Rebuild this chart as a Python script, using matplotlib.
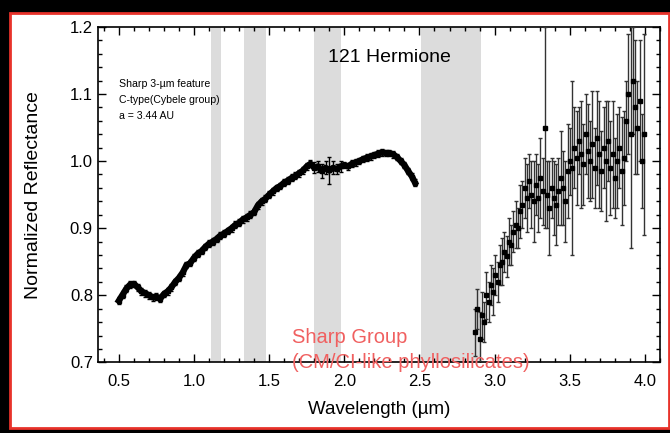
import numpy as np
import matplotlib
matplotlib.use("Agg")
import matplotlib.pyplot as plt
from matplotlib.patches import Rectangle
from matplotlib.ticker import MultipleLocator

plt.rcParams['font.family'] = ['Liberation Sans', 'DejaVu Sans']

# visible/near-IR part of the spectrum (low noise)
wl_vis = [0.500, 0.525, 0.550, 0.575, 0.600, 0.625, 0.650, 0.675, 0.700, 0.725,
          0.750, 0.775, 0.800, 0.825, 0.850, 0.875, 0.900, 0.925, 0.950, 0.975,
          1.000, 1.025, 1.050, 1.075, 1.100, 1.125, 1.150, 1.175, 1.200, 1.225,
          1.250, 1.275, 1.300, 1.325, 1.350, 1.375, 1.400, 1.425, 1.450, 1.475,
          1.500, 1.525, 1.550, 1.575, 1.600, 1.625, 1.650, 1.675, 1.700, 1.725,
          1.750, 1.775, 1.800, 1.825, 1.850, 1.875, 1.900, 1.925, 1.950, 1.975,
          2.000, 2.025, 2.050, 2.075, 2.100, 2.125, 2.150, 2.175, 2.200, 2.225,
          2.250, 2.275, 2.300, 2.325, 2.350, 2.375, 2.400, 2.425, 2.450, 2.470]
refl_vis = [0.792, 0.801, 0.810, 0.816, 0.817, 0.812, 0.806, 0.803, 0.800, 0.797,
            0.798, 0.795, 0.802, 0.806, 0.812, 0.820, 0.826, 0.834, 0.845, 0.848,
            0.856, 0.862, 0.866, 0.872, 0.877, 0.880, 0.884, 0.889, 0.892, 0.896,
            0.900, 0.905, 0.908, 0.913, 0.916, 0.920, 0.924, 0.934, 0.940, 0.944,
            0.950, 0.955, 0.960, 0.963, 0.968, 0.971, 0.975, 0.978, 0.982, 0.986,
            0.992, 0.996, 0.990, 0.992, 0.985, 0.990, 0.986, 0.990, 0.988, 0.992,
            0.994, 0.992, 0.996, 0.998, 1.000, 1.003, 1.005, 1.007, 1.009, 1.011,
            1.013, 1.012, 1.012, 1.010, 1.006, 1.000, 0.994, 0.985, 0.977, 0.968]
err_vis = [0.005] * 52 + [0.008, 0.008, 0.010, 0.010, 0.020, 0.010, 0.008, 0.008] + [0.005] * 20

# 3-micron region (noisy)
wl_ir = [2.870, 2.885, 2.900, 2.915, 2.930, 2.945, 2.960, 2.975, 2.990, 3.005,
         3.020, 3.035, 3.050, 3.065, 3.080, 3.095, 3.110, 3.125, 3.140, 3.155,
         3.170, 3.185, 3.200, 3.215, 3.230, 3.245, 3.260, 3.275, 3.290, 3.305,
         3.320, 3.335, 3.350, 3.365, 3.380, 3.395, 3.410, 3.425, 3.440, 3.455,
         3.470, 3.485, 3.500, 3.515, 3.530, 3.545, 3.560, 3.575, 3.590, 3.605,
         3.620, 3.635, 3.650, 3.665, 3.680, 3.695, 3.710, 3.725, 3.740, 3.755,
         3.770, 3.785, 3.800, 3.815, 3.830, 3.845, 3.860, 3.875, 3.890, 3.905,
         3.920, 3.935, 3.950, 3.965, 3.980, 3.995]
refl_ir = [0.745, 0.780, 0.735, 0.770, 0.760, 0.800, 0.790, 0.815, 0.805, 0.830,
           0.820, 0.845, 0.850, 0.865, 0.858, 0.880, 0.875, 0.895, 0.905, 0.900,
           0.925, 0.935, 0.960, 0.945, 0.970, 0.950, 0.940, 0.965, 0.945, 0.975,
           0.955, 1.050, 0.950, 0.930, 0.960, 0.945, 0.935, 0.955, 0.975, 0.960,
           0.940, 0.985, 1.000, 0.990, 1.020, 1.005, 1.030, 1.010, 0.995, 1.040,
           1.015, 1.000, 1.025, 0.990, 1.035, 1.010, 0.985, 1.020, 1.000, 1.030,
           0.990, 1.010, 0.975, 1.000, 1.020, 0.985, 1.005, 1.060, 1.100, 1.040,
           1.120, 1.080, 1.050, 1.090, 1.000, 1.040]
err_ir = [0.035, 0.030, 0.040, 0.035, 0.030, 0.035, 0.030, 0.030, 0.035, 0.030,
          0.030, 0.030, 0.035, 0.030, 0.030, 0.035, 0.030, 0.030, 0.035, 0.030,
          0.040, 0.035, 0.045, 0.050, 0.040, 0.050, 0.060, 0.045, 0.050, 0.060,
          0.050, 0.150, 0.050, 0.070, 0.045, 0.055, 0.060, 0.050, 0.070, 0.055,
          0.060, 0.070, 0.050, 0.130, 0.060, 0.070, 0.050, 0.080, 0.060, 0.060,
          0.070, 0.060, 0.080, 0.060, 0.070, 0.080, 0.060, 0.060, 0.090, 0.060,
          0.070, 0.080, 0.060, 0.070, 0.060, 0.080, 0.070, 0.060, 0.090, 0.170,
          0.080, 0.100, 0.070, 0.090, 0.070, 0.150]

# telluric bands (grey)
bands = [(1.11, 1.18), (1.33, 1.48), (1.80, 1.98), (2.51, 2.91)]

fig = plt.figure(figsize=(6.7, 4.33), dpi=100, facecolor='black')
fig.patches.append(Rectangle((0.015, 0.011), 0.983, 0.958, transform=fig.transFigure,
                             facecolor='white', edgecolor='#e8322a', linewidth=2.0, zorder=-10))
ax = fig.add_axes([0.146, 0.163, 0.839, 0.775])
ax.set_facecolor('none')

for lo, hi in bands:
    ax.axvspan(lo, hi, color='#dcdcdc', lw=0, zorder=0)

ax.plot(wl_vis, refl_vis, color='black', lw=4.5, zorder=3)
ax.errorbar(wl_vis, refl_vis, yerr=err_vis, fmt='s', ms=3.5, color='black',
            ecolor='black', elinewidth=1.0, capsize=1.5, zorder=3)
ax.errorbar(wl_ir, refl_ir, yerr=err_ir, fmt='s', ms=3.2, color='black',
            ecolor='0.2', elinewidth=1.0, capsize=1.5, zorder=3)

ax.set_xlim(0.36, 4.10)
ax.set_ylim(0.70, 1.20)
ax.xaxis.set_major_locator(MultipleLocator(0.5))
ax.xaxis.set_minor_locator(MultipleLocator(0.1))
ax.yaxis.set_major_locator(MultipleLocator(0.1))
ax.yaxis.set_minor_locator(MultipleLocator(0.02))
ax.xaxis.set_major_formatter(plt.FormatStrFormatter('%.1f'))
ax.yaxis.set_major_formatter(plt.FormatStrFormatter('%.1f'))
ax.tick_params(which='both', direction='in', top=True, right=True, labelsize=12, width=1)
ax.tick_params(which='major', length=6)
ax.tick_params(which='minor', length=3)
ax.tick_params(axis='x', which='major', pad=8)
for s in ax.spines.values():
    s.set_linewidth(1.2)

ax.set_xlabel('Wavelength (\u00b5m)', fontsize=13.5, labelpad=9)
ax.set_ylabel('Normalized Reflectance', fontsize=14, labelpad=20)

ax.text(2.30, 1.155, '121 Hermione', fontsize=14, ha='center', va='center')
ax.text(0.50, 1.091, 'Sharp 3-\u00b5m feature\nC-type(Cybele group)\na = 3.44 AU',
        fontsize=7.6, ha='left', va='center', linespacing=1.7)

ax.text(1.65, 0.737, 'Sharp Group', fontsize=14.5, color='#f06060', ha='left', va='center',
        clip_on=False, zorder=6)
ax.text(1.65, 0.700, '(CM/CI-like phyllosilicates)', fontsize=14.5, color='#f06060',
        ha='left', va='center', clip_on=False, zorder=6)

fig.savefig('out.png', dpi=100, facecolor=fig.get_facecolor())
